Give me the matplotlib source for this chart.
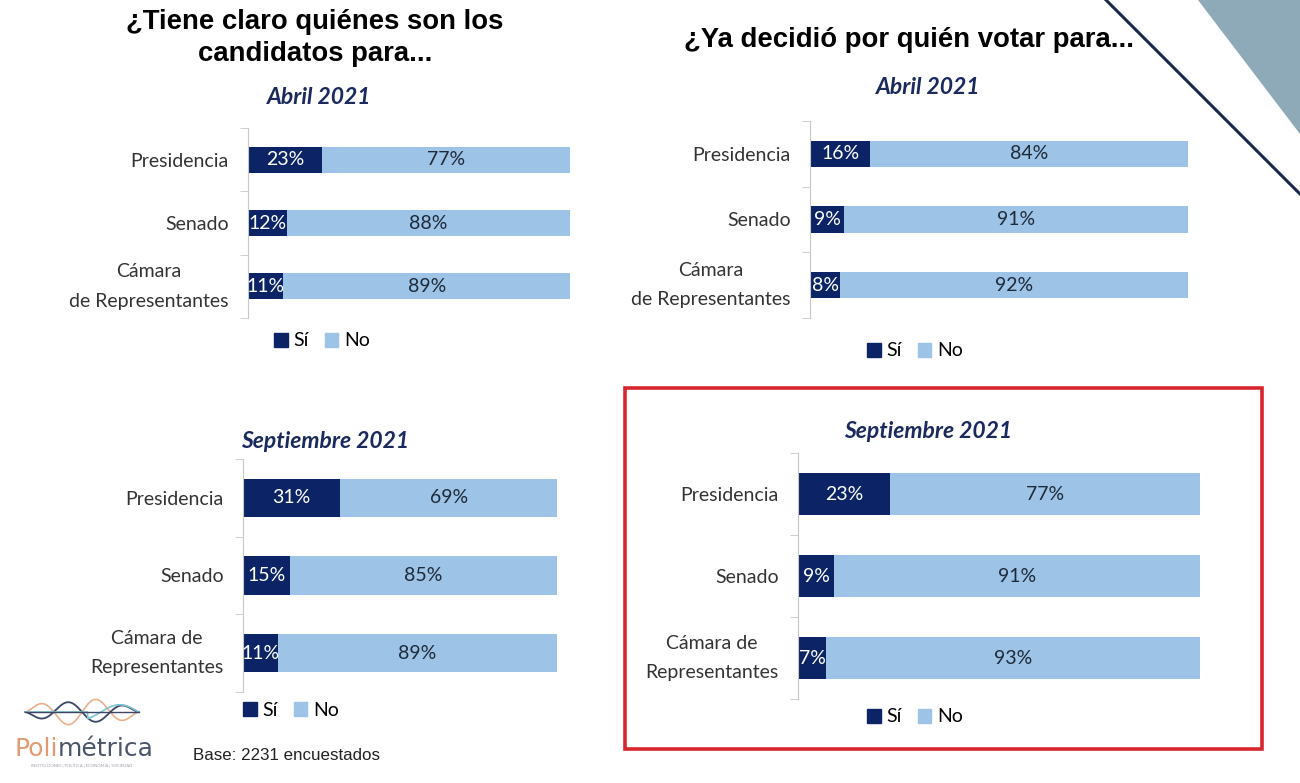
import numpy as np
import matplotlib.pyplot as plt
from matplotlib.patches import Rectangle, Polygon, Patch
from matplotlib.lines import Line2D

W, H = 1300, 783

# datos
cat_izq = ["Presidencia", "Senado", "Cámara\nde Representantes"]
cat_izq_sep = ["Presidencia", "Senado", "Cámara de\nRepresentantes"]
si_claro_abr = [23, 12, 11]
no_claro_abr = [77, 88, 89]
si_claro_sep = [31, 15, 11]
no_claro_sep = [69, 85, 89]
si_voto_abr = [16, 9, 8]
no_voto_abr = [84, 91, 92]
si_voto_sep = [23, 9, 7]
no_voto_sep = [77, 91, 93]

C_SI = "#0c2466"
C_NO = "#9dc3e6"
C_SUB = "#1b2a5e"
TXT = "#333333"
FONT = "Lato"

fig = plt.figure(figsize=(W / 100, H / 100), dpi=100)


def fx(x):
    return x / W


def fy(y):
    return 1 - y / H


def panel(cats, si, no, box, bar_h, sub, sub_xy, leg_xy, fs=14):
    x0, y0, x1, y1 = box
    ax = fig.add_axes([fx(x0), fy(y1), (x1 - x0) / W, (y1 - y0) / H])
    y = np.arange(len(cats))
    ax.barh(y, si, height=bar_h, color=C_SI, label="Sí")
    ax.barh(y, no, left=si, height=bar_h, color=C_NO, label="No")
    for i in range(len(cats)):
        ax.text(si[i] / 2, y[i], f"{si[i]}%", ha="center", va="center",
                color="white", fontsize=fs, family=FONT)
        ax.text(si[i] + no[i] / 2, y[i], f"{no[i]}%", ha="center", va="center",
                color="#1e2a3a", fontsize=fs, family=FONT)
    ax.set_xlim(0, 100)
    ax.set_ylim(len(cats) - 0.5, -0.5)
    ax.set_yticks(y)
    labels = ax.set_yticklabels(cats, fontsize=fs, family=FONT, color=TXT,
                                multialignment="center", linespacing=1.9)
    for lab in labels:
        if "\n" in lab.get_text():
            lab.set_va("center")
    ax.set_yticks(np.arange(len(cats) + 1) - 0.5, minor=True)
    ax.tick_params(axis="y", which="major", length=0, pad=14)
    ax.tick_params(axis="y", which="minor", length=6, color="#c8c8c8")
    ax.set_xticks([])
    for s in ["top", "right", "bottom"]:
        ax.spines[s].set_visible(False)
    ax.spines["left"].set_color("#c8c8c8")
    ax.patch.set_alpha(0)
    fig.text(fx(sub_xy[0]), fy(sub_xy[1]), sub, ha="center", va="center",
             fontsize=16.5, fontweight="bold", style="italic", color=C_SUB,
             family=FONT)
    handles = [Patch(color=C_SI), Patch(color=C_NO)]
    ax.legend(handles, ["Sí", "No"], loc="center",
              bbox_to_anchor=(fx(leg_xy[0]), fy(leg_xy[1])),
              bbox_transform=fig.transFigure, ncol=2, frameon=False,
              handlelength=0.7, handleheight=0.7, handletextpad=0.3,
              columnspacing=0.8, prop={"family": FONT, "size": fs})
    return ax


panel(cat_izq, si_claro_abr, no_claro_abr, (248, 128, 570, 318), 0.41,
      "Abril 2021", (319, 97), (322, 341))
panel(cat_izq, si_voto_abr, no_voto_abr, (810, 121, 1188, 318), 0.40,
      "Abril 2021", (928, 87), (915, 351))
panel(cat_izq_sep, si_claro_sep, no_claro_sep, (243, 459, 557, 692), 0.49,
      "Septiembre 2021", (325, 441), (291, 710))
panel(cat_izq_sep, si_voto_sep, no_voto_sep, (798, 453, 1200, 699), 0.51,
      "Septiembre 2021", (928, 432), (915, 717))

# titulos
fig.text(fx(315), fy(38), "¿Tiene claro quiénes son los\ncandidatos para...",
         ha="center", va="center", fontsize=19.8, fontweight="bold",
         family="Liberation Sans", linespacing=1.3)
fig.text(fx(909), fy(40), "¿Ya decidió por quién votar para...",
         ha="center", va="center", fontsize=19.8, fontweight="bold",
         family="Liberation Sans")

# recuadro rojo
fig.add_artist(Rectangle((fx(625), fy(749)), (1262 - 625) / W, (749 - 388) / H,
                         transform=fig.transFigure, fill=False,
                         edgecolor="#d7262e", lw=2.6))

# decoracion esquina
fig.add_artist(Polygon([(fx(1198), 1), (1, 1), (1, fy(134))], closed=True,
                       transform=fig.transFigure, facecolor="#8eaab9",
                       edgecolor="none"))
fig.add_artist(Line2D([fx(1106), 1], [1, fy(194)], transform=fig.transFigure,
                      color="#1b2a4a", lw=2.2))

# logo
lax = fig.add_axes([fx(22), fy(728), 120 / W, 32 / H])
t = np.linspace(0, 1, 300)
lax.plot(t, 0.9 * np.sin(2 * np.pi * 2 * t) * np.sin(np.pi * t) ** 0.5,
         color="#eab08c", lw=1.2)
lax.plot(t, 0.7 * np.sin(2 * np.pi * 2 * t + np.pi) * np.sin(np.pi * t) ** 0.5,
         color="#3b4765", lw=1.3)
lax.plot(t, 0.5 * np.sin(2 * np.pi * 1.5 * t) * (t > 0.55), color="#7ec7cf",
         lw=1.2)
lax.plot([0, 1], [0, 0], color="#3b4765", lw=1.0)
lax.set_xlim(-0.03, 1.03)
lax.set_ylim(-1.1, 1.1)
lax.axis("off")
fig.text(fx(58), fy(749), "Poli", ha="right", va="center", fontsize=18,
         color="#e39a72", family="DejaVu Sans")
fig.text(fx(58), fy(749), "métrica", ha="left", va="center", fontsize=18,
         color="#4a5568", family="DejaVu Sans")
fig.text(fx(82), fy(766), "INSTITUCIONES | POLÍTICA | ECONOMÍA | SOCIEDAD",
         ha="center", va="center", fontsize=3, color="#9aa0a8", family=FONT)

fig.text(fx(193), fy(755), "Base: 2231 encuestados", ha="left", va="center",
         fontsize=12.2, family="Liberation Sans", color="#222222")

fig.savefig("out.png", dpi=100)
